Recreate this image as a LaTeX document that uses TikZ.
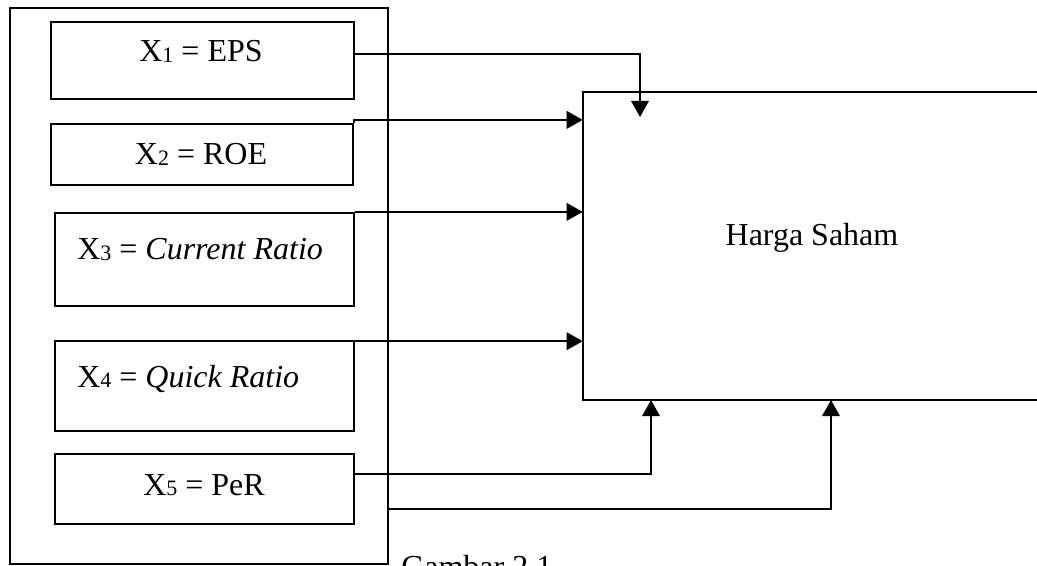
\documentclass[tikz,border=0pt]{standalone}
\usepackage{fontspec}
\setmainfont{Liberation Serif}
\usetikzlibrary{arrows.meta}
\newcommand\sbx[1]{\raisebox{-0.6pt}{\fontsize{16.5}{16.5}\selectfont #1}}
\begin{document}
\begin{tikzpicture}[x=0.75pt,y=-0.75pt,
  box/.style={draw,line width=1.7pt,inner sep=0pt,rectangle},
  lbl/.style={inner sep=0pt,font=\fontsize{24}{28}\selectfont},
  conn/.style={line width=1.7pt},
  arr/.style={line width=1.7pt,-{Triangle[length=12pt,width=13pt]}}]
\useasboundingbox (0,0) rectangle (1037,566);
% outer container
\node[box,minimum width=283.5pt,minimum height=417pt] (outer) at (199,286) {};
% variable boxes
\node[box,minimum width=227.25pt,minimum height=57.75pt] (b1) at (202.5,60.5) {};
\node[box,minimum width=226.5pt,minimum height=45.75pt] (b2) at (202,154.5) {};
\node[box,minimum width=224.25pt,minimum height=69.75pt] (b3) at (204.5,259.5) {};
\node[box,minimum width=224.25pt,minimum height=67.5pt] (b4) at (204.5,386) {};
\node[box,minimum width=224.25pt,minimum height=52.5pt] (b5) at (204.5,489) {};
% labels
\node[lbl,anchor=base] (l1) at (201,62) {X\sbx{1} = EPS};
\node[lbl,anchor=base] (l2) at (201,165) {X\sbx{2} = ROE};
\node[lbl,anchor=base west] (l3) at (77,260) {X\sbx{3} = \textit{Current Ratio}};
\node[lbl,anchor=base west] (l4) at (77,387) {X\sbx{4} = \textit{Quick Ratio}};
\node[lbl,anchor=base] (l5) at (204,495) {X\sbx{5} = PeR};
% target box (open to the right)
\node[inner sep=0pt,minimum width=357.75pt,minimum height=231pt] (hs) at (821.5,246) {};
\draw[conn] (hs.north east) -- (hs.north west) -- (hs.south west) -- (hs.south east);
\node[lbl,anchor=base] (hst) at (812,245.5) {Harga Saham};
% caption
\node[lbl,anchor=base west] (cap) at (401,577) {Gambar 2.1};
% connector end points
\coordinate (e1) at (640,117);
\coordinate (e5) at (651,400);
\coordinate (e6) at (831,400);
% connectors
\draw[arr] ([yshift=4.9pt]b1.east) -| (e1);
\draw[arr] (b2.north east) |- ([yshift=2.25pt]b2.north east -| hs.west);
\draw[arr] (b3.north east) -- (b3.north east -| hs.west);
\draw[arr] ([yshift=-1pt]b4.north east) -- ([yshift=-1pt]b4.north east -| hs.west);
\draw[arr] ([yshift=11.25pt]b5.east) -| (e5);
\draw[arr] (outer.east |- 0,509) -| (e6);
\end{tikzpicture}
\end{document}
